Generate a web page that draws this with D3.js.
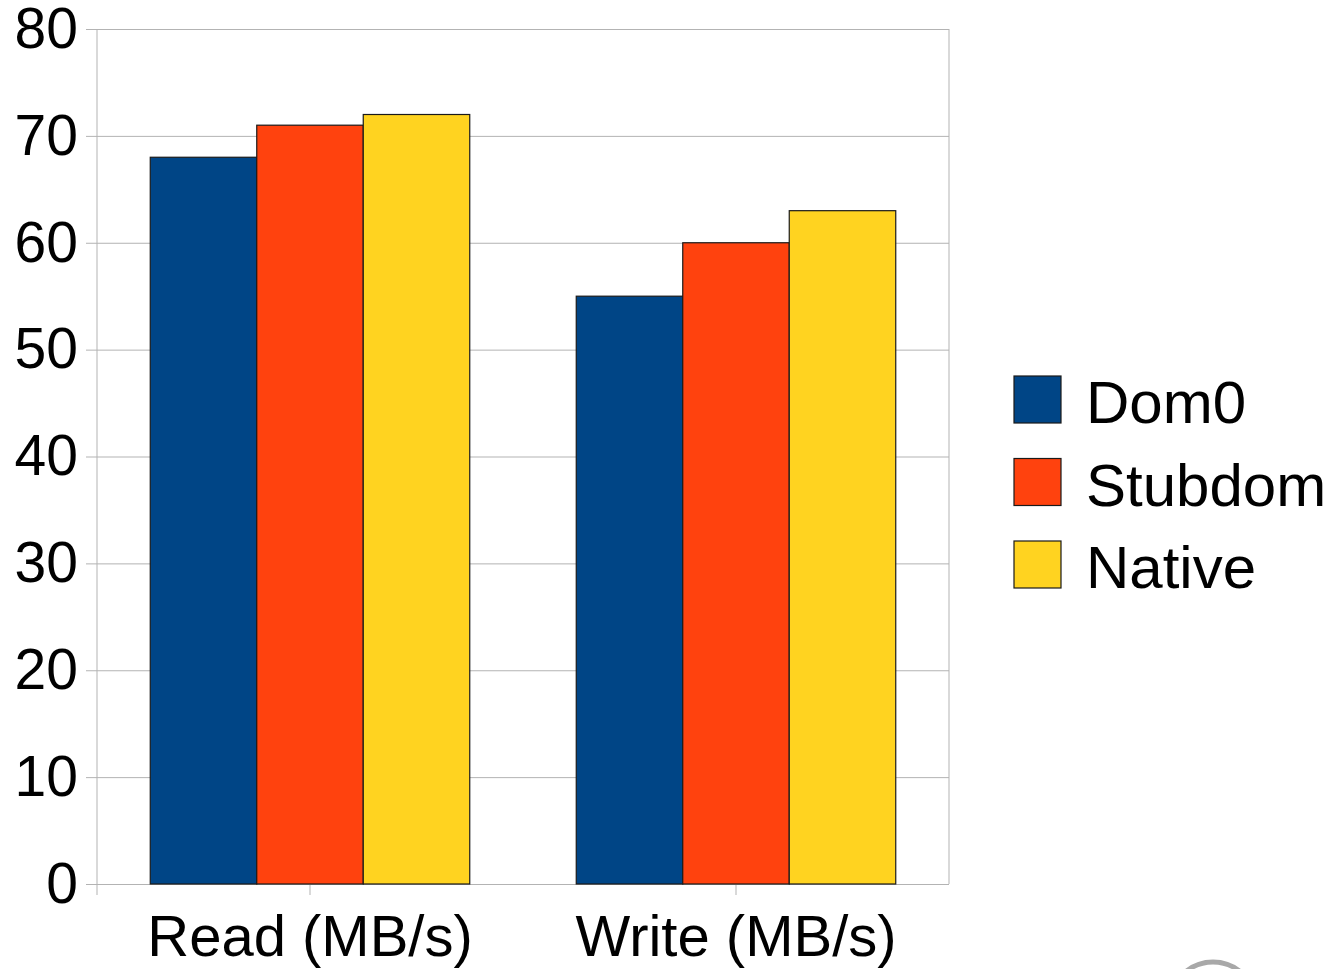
<!DOCTYPE html>
<html>
<head>
<meta charset="utf-8">
<script src="https://cdn.jsdelivr.net/npm/d3@7"></script>
<style>
  body { margin: 0; background: #fff; }
  text { font-family: "Liberation Sans", Arial, sans-serif; fill: #000; }
</style>
</head>
<body>
<svg id="chart" width="1339" height="969"></svg>
<script>
// Data
const categories = ["Read (MB/s)", "Write (MB/s)"];
const seriesNames = ["Dom0", "Stubdom", "Native"];
const dom0 = [68, 55];
const stubdom = [71, 60];
const native = [72, 63];
const yTicks = [0, 10, 20, 30, 40, 50, 60, 70, 80];

const colors = ["#004586", "#ff420e", "#ffd320"];
const series = [dom0, stubdom, native];

const svg = d3.select("#chart");
const plot = { left: 97, top: 29, right: 949, bottom: 884 };

const x = d3.scaleBand(categories, [plot.left, plot.right])
  .paddingInner(0.25)
  .paddingOuter(0.125);
const xInner = d3.scaleBand(seriesNames, [0, x.bandwidth()]);
const y = d3.scaleLinear([0, 80], [plot.bottom, plot.top]);

// Grid lines + y ticks
const axisY = d3.axisLeft(y).tickValues(yTicks).tickSize(11).tickPadding(8);
svg.append("g")
  .attr("transform", `translate(${plot.left},0)`)
  .call(axisY)
  .call(g => g.select(".domain").remove())
  .call(g => g.selectAll(".tick line").attr("stroke", "#b3b3b3"))
  .call(g => g.selectAll(".tick line")
    .clone()
    .attr("x1", 0)
    .attr("x2", plot.right - plot.left))
  .call(g => g.selectAll(".tick text")
    .attr("font-size", 57)
    .attr("font-family", "Liberation Sans, Arial, sans-serif")
    .attr("fill", "#000"));

// Plot frame (left and right edges)
svg.append("line")
  .attr("x1", plot.left).attr("x2", plot.left)
  .attr("y1", plot.top).attr("y2", plot.bottom + 11)
  .attr("stroke", "#b3b3b3");
svg.append("line")
  .attr("x1", plot.right).attr("x2", plot.right)
  .attr("y1", plot.top).attr("y2", plot.bottom)
  .attr("stroke", "#b3b3b3");

// x axis ticks and labels
const axisX = d3.axisBottom(x).tickSize(11).tickPadding(20);
svg.append("g")
  .attr("transform", `translate(0,${plot.bottom})`)
  .call(axisX)
  .call(g => g.select(".domain").remove())
  .call(g => g.selectAll(".tick line").attr("stroke", "#b3b3b3"))
  .call(g => g.selectAll(".tick text")
    .attr("font-size", 58)
    .attr("font-family", "Liberation Sans, Arial, sans-serif")
    .attr("fill", "#000"));

// Bars
const groups = svg.append("g")
  .selectAll("g")
  .data(categories)
  .join("g")
  .attr("transform", d => `translate(${x(d)},0)`);

groups.selectAll("rect")
  .data((c, i) => seriesNames.map((s, j) => ({ s, j, v: series[j][i] })))
  .join("rect")
  .attr("x", d => xInner(d.s))
  .attr("width", xInner.bandwidth())
  .attr("y", d => y(d.v))
  .attr("height", d => y(0) - y(d.v))
  .attr("fill", d => colors[d.j])
  .attr("stroke", "#1a1a1a")
  .attr("stroke-width", 1.2);

// Legend
const legend = svg.append("g")
  .attr("transform", "translate(1014,376)")
  .selectAll("g")
  .data(seriesNames)
  .join("g")
  .attr("transform", (d, i) => `translate(0,${i * 82.5})`);

legend.append("rect")
  .attr("width", 47)
  .attr("height", 47)
  .attr("fill", (d, i) => colors[i])
  .attr("stroke", "#1a1a1a")
  .attr("stroke-width", 1.2);

legend.append("text")
  .attr("x", 72)
  .attr("y", 47)
  .attr("font-size", 60)
  .text(d => d);

// Grey arc remnant at the bottom edge
svg.append("circle")
  .attr("cx", 1213)
  .attr("cy", 1005)
  .attr("r", 43)
  .attr("fill", "none")
  .attr("stroke", "#a8a8a8")
  .attr("stroke-width", 5);
</script>
</body>
</html>
